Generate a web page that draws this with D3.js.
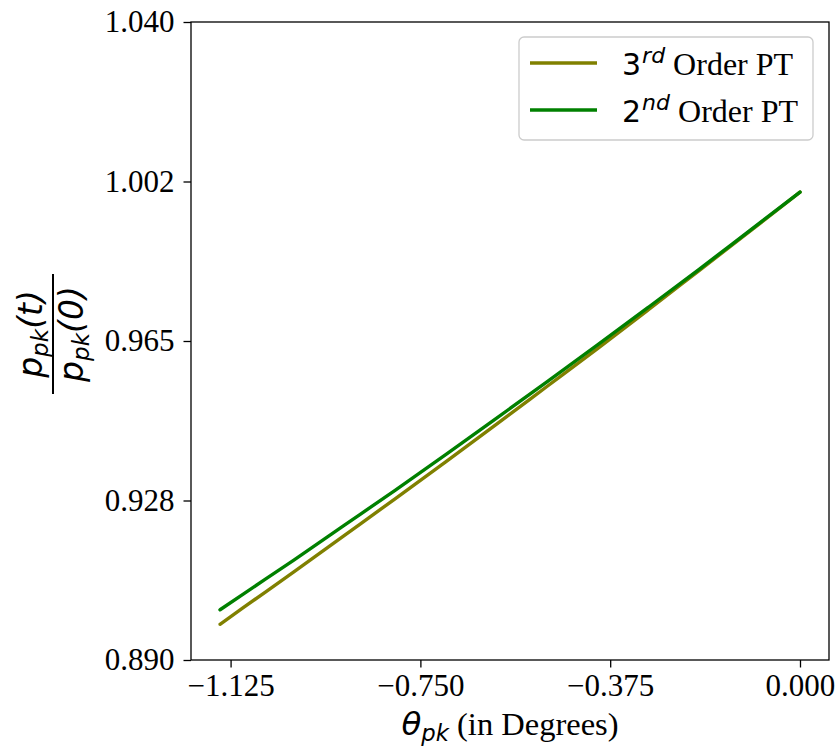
<!DOCTYPE html>
<html>
<head>
<meta charset="utf-8">
<script src="https://cdn.jsdelivr.net/npm/d3@7"></script>
<style>
  html, body { margin: 0; padding: 0; background: #fff; }
  svg { display: block; }
</style>
</head>
<body>
<svg id="chart" width="840" height="749"></svg>
<script>
// ---- Data ----
const thetaDeg = [-1.1459, -1.1, -1.0, -0.9, -0.8, -0.7, -0.6, -0.5, -0.4, -0.3, -0.2, -0.1, 0.0];
const thirdOrder = [0.8984, 0.9023, 0.9107, 0.9193, 0.9279, 0.9366, 0.9454, 0.9543, 0.9632, 0.9723, 0.9815, 0.9907, 1.0000];
const secondOrder = [0.9018, 0.9055, 0.9135, 0.9217, 0.9299, 0.9383, 0.9468, 0.9554, 0.9641, 0.9729, 0.9818, 0.9909, 1.0000];
const xTicks = [-1.125, -0.750, -0.375, 0.000];
const xTickLabels = ["\u22121.125", "\u22120.750", "\u22120.375", "0.000"];
const yTicks = [0.890, 0.9275, 0.965, 1.0025, 1.040];
const yTickLabels = ["0.890", "0.928", "0.965", "1.002", "1.040"];
const seriesNames = ["3rd", "2nd"];
const seriesColors = ["#808000", "#008000"];
const xDomain = [-1.2032, 0.0573];
const yDomain = [0.890, 1.040];

const svg = d3.select("#chart");
const L = 191, R = 829, T = 22, B = 660;
const serif = "'Liberation Serif', 'Times New Roman', serif";
const sans = "'DejaVu Sans', sans-serif";
const fs = 31;

const x = d3.scaleLinear().domain(xDomain).range([L, R]);
const y = d3.scaleLinear().domain(yDomain).range([B, T]);

// lines
const series = [
  { name: seriesNames[0], color: seriesColors[0], values: thirdOrder },
  { name: seriesNames[1], color: seriesColors[1], values: secondOrder }
];
const line = d3.line().x(d => x(d[0])).y(d => y(d[1])).curve(d3.curveMonotoneX);
svg.append("g").selectAll("path").data(series).join("path")
  .attr("d", s => line(thetaDeg.map((t, i) => [t, s.values[i]])))
  .attr("fill", "none")
  .attr("stroke", s => s.color)
  .attr("stroke-width", 3.4)
  .attr("stroke-linecap", "round")
  .attr("stroke-linejoin", "round");

// axes
const xAxis = d3.axisBottom(x).tickValues(xTicks).tickFormat((d, i) => xTickLabels[i]).tickSizeInner(7.5).tickSizeOuter(0).tickPadding(6);
const yAxis = d3.axisLeft(y).tickValues(yTicks).tickFormat((d, i) => yTickLabels[i]).tickSizeInner(7.5).tickSizeOuter(0).tickPadding(9);

const gx = svg.append("g").attr("transform", `translate(0,${B})`).call(xAxis);
const gy = svg.append("g").attr("transform", `translate(${L},0)`).call(yAxis);
[gx, gy].forEach(g => {
  g.select(".domain").remove();
  g.selectAll(".tick line").attr("stroke", "#000").attr("stroke-width", 1.3);
  g.selectAll(".tick text").attr("font-family", serif).attr("font-size", fs).attr("fill", "#000");
});

// frame
svg.append("rect").attr("x", L).attr("y", T).attr("width", R - L).attr("height", B - T)
  .attr("fill", "none").attr("stroke", "#000").attr("stroke-width", 1.3);

// x label
const lfs = 32.5;
const xl = svg.append("text").attr("x", (L + R) / 2).attr("y", 735).attr("text-anchor", "middle")
  .attr("font-size", lfs).attr("fill", "#000");
xl.append("tspan").attr("font-family", sans).attr("font-style", "italic").text("\u03B8");
xl.append("tspan").attr("font-family", sans).attr("font-style", "italic").attr("font-size", lfs * 0.7).attr("dy", 6).text("pk");
xl.append("tspan").attr("font-family", serif).attr("dy", -6).text("\u00A0(in Degrees)");

// y label (fraction)
const yfs = 33;
const ylg = svg.append("g").attr("transform", `translate(53,${(T + B) / 2 - 7}) rotate(-90)`);
const num = ylg.append("text").attr("x", 0).attr("y", -11).attr("text-anchor", "middle")
  .attr("font-family", sans).attr("font-style", "italic").attr("font-size", yfs).attr("fill", "#000");
num.append("tspan").text("p");
num.append("tspan").attr("font-size", yfs * 0.7).attr("dy", 6).text("pk");
num.append("tspan").attr("dy", -6).text("(t)");
ylg.append("line").attr("x1", -60).attr("x2", 60).attr("y1", 0).attr("y2", 0)
  .attr("stroke", "#000").attr("stroke-width", 2);
const den = ylg.append("text").attr("x", 0).attr("y", 30).attr("text-anchor", "middle")
  .attr("font-family", sans).attr("font-style", "italic").attr("font-size", yfs).attr("fill", "#000");
den.append("tspan").text("p");
den.append("tspan").attr("font-size", yfs * 0.7).attr("dy", 6).text("pk");
den.append("tspan").attr("dy", -6).text("(0)");

// legend
const gfs = 32;
const lg = svg.append("g");
lg.append("rect").attr("x", 519).attr("y", 37).attr("width", 294).attr("height", 103)
  .attr("rx", 5).attr("fill", "#fff").attr("fill-opacity", 0.8).attr("stroke", "#cccccc").attr("stroke-width", 1.3);
const legY = [63, 110];
series.forEach((s, i) => {
  lg.append("line").attr("x1", 530).attr("x2", 597).attr("y1", legY[i]).attr("y2", legY[i])
    .attr("stroke", s.color).attr("stroke-width", 3.4);
  const t = lg.append("text").attr("x", 622).attr("y", legY[i] + 12).attr("font-size", gfs).attr("fill", "#000");
  t.append("tspan").attr("font-family", sans).attr("font-size", 30).text(s.name.slice(0, 1));
  t.append("tspan").attr("font-family", sans).attr("font-style", "italic").attr("font-size", 22).attr("dx", 1).attr("dy", -12).text(s.name.slice(1));
  t.append("tspan").attr("font-family", serif).attr("dy", 12).text("\u00A0Order PT");
});
</script>
</body>
</html>
